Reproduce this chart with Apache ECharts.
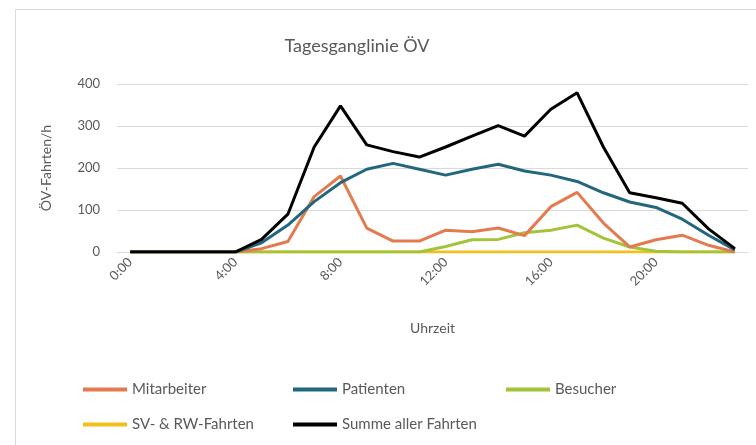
<!DOCTYPE html>
<html>
<head>
<meta charset="utf-8">
<script src="https://cdn.jsdelivr.net/npm/echarts@6/dist/echarts.min.js"></script>
<style>html,body{margin:0;padding:0;background:#fff}#c{width:756px;height:445px}</style>
</head>
<body>
<div id="c"></div>
<script>
const hours = ['0:00','1:00','2:00','3:00','4:00','5:00','6:00','7:00','8:00','9:00','10:00','11:00','12:00','13:00','14:00','15:00','16:00','17:00','18:00','19:00','20:00','21:00','22:00','23:00'];
const mitarbeiter = [0,0,0,0,0,8,25,132,181,57,26,26,52,48,57,39,108,142,69,12,29,40,16,0];
const patienten   = [0,0,0,0,0,22,64,120,165,197,211,197,183,197,209,193,183,168,141,119,106,78,40,5];
const besucher    = [0,0,0,0,0,0,0,0,0,0,0,0,13,29,30,46,52,64,33,12,2,0,0,0];
const svRw        = [0,0,0,0,0,0,0,0,0,0,0,0,0,0,0,0,0,0,0,0,0,0,0,0];
const summe       = [0,0,0,0,0,30,90,250,348,255,239,226,250,276,301,276,340,379,250,141,129,116,55,8];
const yTicks = [0,100,200,300,400];

const FONT = 'Lato';
const GREY = '#595959';
const names = ['Mitarbeiter','Patienten','Besucher','SV- & RW-Fahrten','Summe aller Fahrten'];
const colors = ['#E37B4E','#22677E','#A3C43A','#F2C01C','#000000'];
const values = [mitarbeiter, patienten, besucher, svRw, summe];
const zOrder = [4, 5, 3, 2, 6];

const legendPos = [[78,377],[288,377],[501,377],[78,412],[288,412]];

const chart = echarts.init(document.getElementById('c'));
chart.setOption({
  animation: false,
  backgroundColor: '#fff',
  textStyle: {fontFamily: FONT},
  title: {
    text: 'Tagesganglinie ÖV',
    left: 352, top: 32, textAlign: 'center',
    textStyle: {fontFamily: FONT, fontSize: 18, fontWeight: 'normal', color: GREY}
  },
  graphic: [{
    type: 'rect', left: 13, top: 7, silent: true,
    shape: {width: 760, height: 436},
    style: {fill: 'none', stroke: '#d9d9d9', lineWidth: 1}
  }],
  legend: names.map((n, i) => ({
    data: [n], left: legendPos[i][0], top: legendPos[i][1],
    icon: 'rect', itemWidth: 44, itemHeight: 4, itemGap: 0,
    textStyle: {fontFamily: FONT, fontSize: 15, color: GREY}
  })),
  grid: {left: 117, right: 8, top: 84, bottom: 193},
  xAxis: {
    type: 'category', data: hours, boundaryGap: true,
    name: 'Uhrzeit', nameLocation: 'middle', nameGap: 69,
    nameTextStyle: {fontFamily: FONT, fontSize: 14, color: GREY},
    axisLine: {lineStyle: {color: '#d9d9d9'}},
    axisTick: {show: false},
    axisLabel: {interval: 3, rotate: 45, fontFamily: FONT, fontSize: 13, color: GREY, margin: 8}
  },
  yAxis: {
    type: 'value', min: yTicks[0], max: yTicks[yTicks.length-1], interval: 100,
    name: 'ÖV-Fahrten/h', nameLocation: 'middle', nameGap: 64,
    nameTextStyle: {fontFamily: FONT, fontSize: 14, color: GREY},
    axisLine: {show: false}, axisTick: {show: false},
    axisLabel: {fontFamily: FONT, fontSize: 13, color: GREY, margin: 17},
    splitLine: {lineStyle: {color: '#d9d9d9', width: 1}}
  },
  series: names.map((n, i) => ({
    name: n, type: 'line', data: values[i], symbol: 'none',
    lineStyle: {color: colors[i], width: 3}, itemStyle: {color: colors[i]},
    z: zOrder[i]
  }))
});
</script>
</body>
</html>
